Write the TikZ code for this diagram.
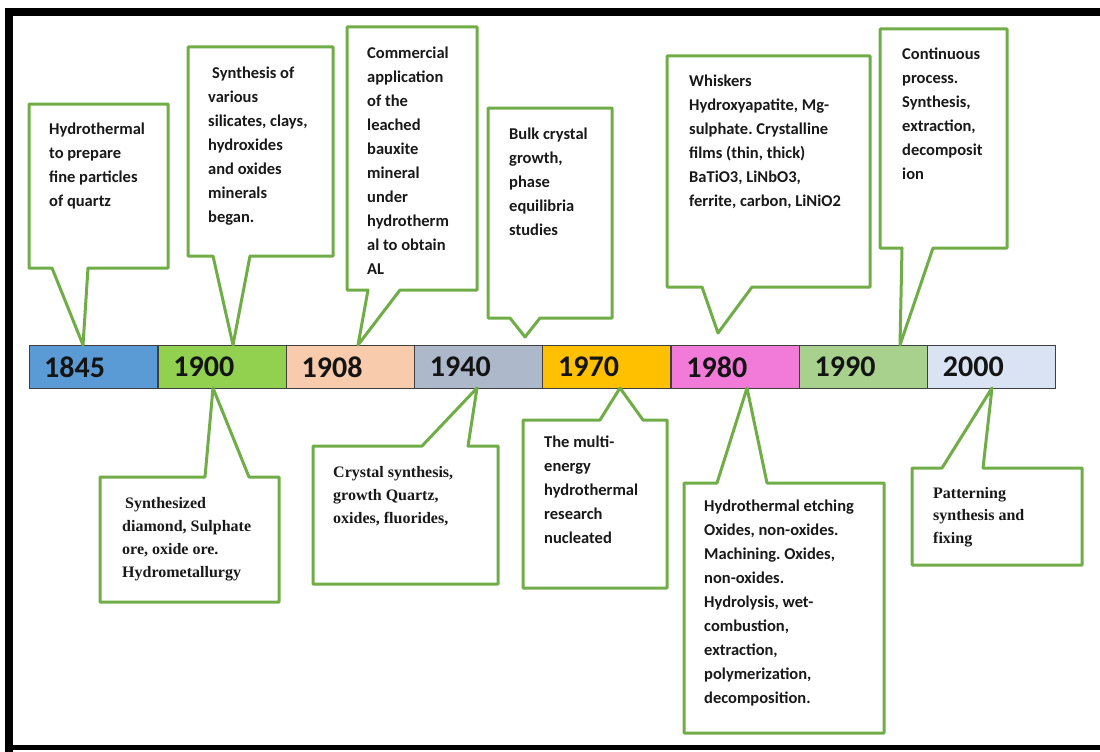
\documentclass[tikz,border=0pt]{standalone}
\usepackage{fontspec}
\setmainfont{Carlito}
\newfontfamily\timesf{Liberation Serif}
\frenchspacing
\definecolor{calgreen}{HTML}{70AD47}
\definecolor{segline}{HTML}{3F3F3F}
\definecolor{cA}{HTML}{5B9BD5}
\definecolor{cB}{HTML}{92D050}
\definecolor{cC}{HTML}{F8CBAD}
\definecolor{cD}{HTML}{ADB9CA}
\definecolor{cE}{HTML}{FFC000}
\definecolor{cF}{HTML}{F27AD8}
\definecolor{cG}{HTML}{A9D18E}
\definecolor{cH}{HTML}{DAE3F3}
\begin{document}
\begin{tikzpicture}[x=1pt,y=-1pt,
  callout/.style={draw=calgreen, line width=3pt, fill=white, line join=round},
  cal/.style={anchor=north west, inner sep=0pt, align=left, font=\frenchspacing\fontsize{16.5}{24}\selectfont\bfseries, text=black!90, execute at begin node={\rule{0pt}{12.5pt}}},
  tms/.style={anchor=north west, inner sep=0pt, align=left, font=\frenchspacing\timesf\fontsize{16}{23}\selectfont\bfseries, text=black!90, execute at begin node={\rule{0pt}{12.5pt}}},
  seg/.style={draw=segline, line width=1.3pt, minimum width=128.25pt, minimum height=43pt, inner sep=0pt, anchor=north west},
  yr/.style={font=\fontsize{30}{30}\selectfont\bfseries, anchor=west, inner sep=0pt, text=black!92}
]
\useasboundingbox (0,0) rectangle (1100,752);
\clip (0,0) rectangle (1100,752);
\fill[white] (0,0) rectangle (1100,752);
% frame
\draw[line width=8pt] (8.5,752) -- (8.5,12) -- (1110,12);
\draw[line width=5pt] (4.5,747.5) -- (1110,747.5);

% timeline bar
\node[seg, fill=cA] (s1) at (29,345) {};
\node[seg, fill=cB] (s2) at (157.25,345) {};
\node[seg, fill=cC] (s3) at (285.5,345) {};
\node[seg, fill=cD] (s4) at (413.75,345) {};
\node[seg, fill=cE] (s5) at (542,345) {};
\node[seg, fill=cF] (s6) at (670.25,345) {};
\node[seg, fill=cG] (s7) at (798.5,345) {};
\node[seg, fill=cH] (s8) at (926.75,345) {};
\node[yr] (y1) at ([xshift=15pt]s1.west) {1845};
\node[yr] (y2) at ([xshift=16pt]s2.west) {1900};
\node[yr] (y3) at ([xshift=16pt]s3.west) {1908};
\node[yr] (y4) at ([xshift=16pt]s4.west) {1940};
\node[yr] (y5) at ([xshift=16pt]s5.west) {1970};
\node[yr] (y6) at ([xshift=16pt]s6.west) {1980};
\node[yr] (y7) at ([xshift=16pt]s7.west) {1990};
\node[yr] (y8) at ([xshift=16pt]s8.west) {2000};

% upper callouts
\draw[callout] (29,104) -- (168,104) -- (168,268) -- (88,268) -- (83,345) -- (52,268) -- (29,268) -- cycle;
\node[cal] (t1) at (49,123) {Hydrothermal\\to prepare\\fine particles\\of quartz};

\draw[callout] (188,47) -- (333,47) -- (333,256) -- (250,256) -- (233,345) -- (213,256) -- (188,256) -- cycle;
\node[cal] (t2) at (208,67) {\hspace{4pt}Synthesis of\\various\\silicates, clays,\\hydroxides\\and oxides\\minerals\\began.};

\draw[callout] (347,27) -- (477,27) -- (477,290) -- (400,290) -- (358,345) -- (368,290) -- (347,290) -- cycle;
\node[cal] (t3) at (367,47) {Commercial\\application\\of the\\leached\\bauxite\\mineral\\under\\hydrotherm\\al to obtain\\AL};

\draw[callout] (488,108) -- (612,108) -- (612,318) -- (540,318) -- (525,337) -- (510,318) -- (488,318) -- cycle;
\node[cal] (t4) at (509,128) {Bulk crystal\\growth,\\phase\\equilibria\\studies};

\draw[callout] (667,56) -- (870,56) -- (870,287) -- (752,287) -- (718,333) -- (702,287) -- (667,287) -- cycle;
\node[cal] (t5) at (689,75) {Whiskers\\Hydroxyapatite, Mg-\\sulphate. Crystalline\\films (thin, thick)\\BaTiO3, LiNbO3,\\ferrite, carbon, LiNiO2};

\draw[callout] (880,29) -- (1007,29) -- (1007,248) -- (933,248) -- (900,345) -- (902,248) -- (880,248) -- cycle;
\node[cal] (t6) at (902,48) {Continuous\\process.\\Synthesis,\\extraction,\\decomposit\\ion};

% lower callouts
\draw[callout] (100,477) -- (205,477) -- (213,388) -- (249,477) -- (279,477) -- (279,602) -- (100,602) -- cycle;
\node[tms] (t7) at (122,497) {\hspace{3pt}Synthesized\\diamond, Sulphate\\ore, oxide ore.\\Hydrometallurgy};

\draw[callout] (313,446) -- (422,446) -- (477,388) -- (468,446) -- (498,446) -- (498,584) -- (313,584) -- cycle;
\node[tms] (t8) at (333,466) {Crystal synthesis,\\growth Quartz,\\oxides, fluorides,};

\draw[callout] (523,420) -- (600,420) -- (620,388) -- (643,420) -- (667,420) -- (667,588) -- (523,588) -- cycle;
\node[cal] (t9) at (544,436) {The multi-\\energy\\hydrothermal\\research\\nucleated};

\draw[callout] (684,483) -- (717,483) -- (747,388) -- (767,483) -- (884,483) -- (884,733) -- (684,733) -- cycle;
\node[cal] (t10) at (704,500) {Hydrothermal etching\\Oxides, non-oxides.\\Machining. Oxides,\\non-oxides.\\Hydrolysis, wet-\\combustion,\\extraction,\\polymerization,\\decomposition.};

\draw[callout] (912,468) -- (942,468) -- (992,388) -- (983,468) -- (1082,468) -- (1082,565) -- (912,565) -- cycle;
\node[tms, font=\frenchspacing\timesf\fontsize{16}{22.5}\selectfont\bfseries] (t11) at (933,487) {Patterning\\synthesis and\\fixing};
\end{tikzpicture}
\end{document}
